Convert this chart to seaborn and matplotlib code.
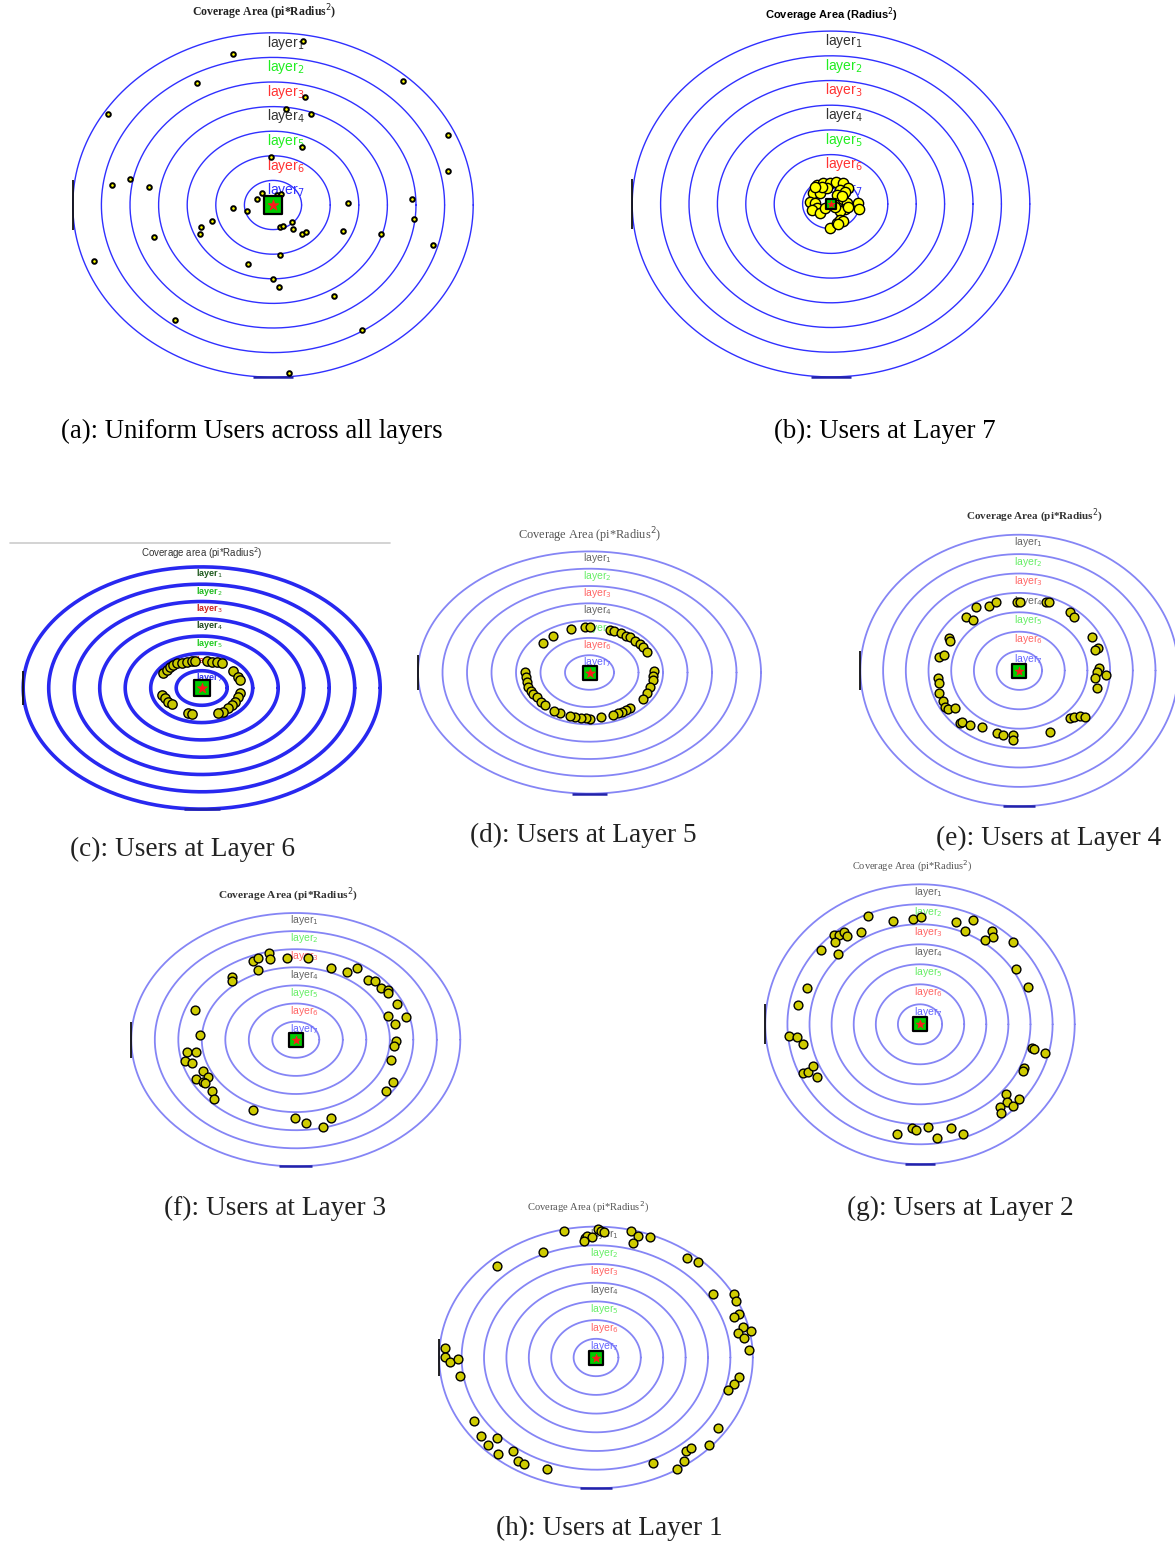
import numpy as np
import matplotlib
matplotlib.use("Agg")
import matplotlib.pyplot as plt
from matplotlib.lines import Line2D
import seaborn as sns

sns.set_theme(style="white")
plt.rcParams["font.family"] = ["DejaVu Sans"]
plt.rcParams["mathtext.fontset"] = "dejavusans"

# ---------------------------------------------------------------- data
RING_RADII = [7, 6, 5, 4, 3, 2, 1]
LAYER_NAMES = [r"layer$_{%d}$" % k for k in range(1, 8)]
LAYER_POS = [6.6, 5.6, 4.6, 3.6, 2.6, 1.6, 0.6]

# user positions in ring units (outer ring radius = 7)
uniform_x = [1.06, -1.41, -2.67, 4.56, 1.13, 0.47, 1.33, -5.78, 6.13, 1.01, -0.08, 6.13,
             -5.00, -5.63, -4.35, 4.85, -0.38, -0.55, 0.13, 0.29, 2.62, -1.39, -0.92, -0.17,
             4.94, -2.14, -2.51, -2.54, 0.66, 0.24, 0.34, 0.71, 1.02, 1.14, 2.46, 3.78,
             -4.15, 5.58, -6.25, 0.23, -0.86, 0.01, 0.21, 2.13, -3.42, 3.11, 0.57]
uniform_y = [6.68, 6.13, 4.97, 5.05, 4.39, 3.90, 3.70, 3.70, 2.85, 2.36, 1.95, 1.37,
             1.04, 0.80, 0.72, 0.23, 0.48, 0.23, 0.41, 0.45, 0.07, -0.13, -0.26, -0.23,
             -0.58, -0.66, -0.88, -1.19, -0.70, -0.88, -0.84, -0.96, -1.19, -1.11, -1.07, -1.19,
             -1.29, -1.61, -2.26, -2.02, -2.40, -2.99, -3.32, -3.70, -4.69, -5.08, -6.84]

layer7_x = [-0.50, -0.27, -0.04, 0.18, 0.43, 0.61, -0.62, -0.39, -0.15, 0.32, 0.49, -0.74,
            -0.56, -0.50, -0.68, -0.39, -0.21, 0.26, 0.43, 0.58, 0.49, 0.32, 0.14, 0.96,
            1.00, -0.04, 0.20, 0.32, 0.43, 0.26, -0.33, 0.20, 0.38, -0.56, 0.61]
layer7_y = [0.77, 0.86, 0.86, 0.90, 0.84, 0.63, 0.43, 0.43, 0.63, 0.57, 0.50, 0.09,
            0.03, -0.18, -0.24, -0.35, -0.18, 0.09, 0.19, 0.03, -0.20, -0.27, -0.11, 0.05,
            -0.22, -0.99, -0.76, -0.65, -0.67, -0.81, 0.70, 0.36, 0.32, 0.70, -0.11]

layer6_x = [-1.51, -1.37, -1.24, -1.11, -0.98, -0.78, -0.59, -0.39, -0.26, 0.20, 0.39, 0.59,
            0.78, 1.24, 1.44, 1.50, -1.57, -1.44, -1.31, -1.18, -0.53, -0.39, 1.50, 1.44,
            1.31, 1.18, 1.04, 0.85, 0.65]
layer6_y = [0.85, 1.04, 1.23, 1.33, 1.43, 1.46, 1.52, 1.56, 1.56, 1.56, 1.52, 1.48,
            1.43, 1.00, 0.65, 0.46, -0.40, -0.60, -0.79, -0.92, -1.46, -1.52, -0.31, -0.50,
            -0.79, -0.98, -1.17, -1.37, -1.43]

layer5_x = [-1.91, -1.48, -0.76, -0.18, 0.02, 0.84, 1.00, 1.27, 1.49, 1.65, 1.86, 2.06,
            2.20, 2.36, 2.65, 2.61, 2.58, 2.47, 2.36, 2.20, 1.65, 1.49, 1.33, 1.16,
            0.97, 0.46, 0.02, -0.16, -0.36, -0.59, -0.80, -1.20, -1.45, -2.63, -2.59, -2.56,
            -2.50, -2.40, -2.29, -2.16, -1.99, -1.82]
layer5_y = [1.72, 2.11, 2.50, 2.61, 2.61, 2.46, 2.40, 2.26, 2.11, 2.03, 1.84, 1.65,
            1.45, 1.17, 0.11, -0.20, -0.43, -0.82, -1.20, -1.55, -2.07, -2.17, -2.26, -2.36,
            -2.46, -2.60, -2.70, -2.65, -2.61, -2.55, -2.51, -2.32, -2.21, 0.05, -0.24, -0.53,
            -0.82, -1.05, -1.24, -1.44, -1.69, -1.88]

layer4_x = [-1.91, -1.32, -1.03, -0.12, 0.03, 1.17, 1.32, 2.23, 2.41, -2.35, -2.06, -3.08,
            -3.05, -3.52, -3.30, 3.20, 3.48, 3.33, 3.52, 3.44, 3.80, 3.35, 3.42, -3.60,
            -3.55, -3.52, -3.38, -3.27, -3.16, -2.83, -2.61, -2.54, -2.17, -1.63, -1.00, -0.70,
            -0.26, -0.26, 1.35, 2.23, 2.41, 2.67, 2.91]
layer4_y = [3.26, 3.34, 3.55, 3.55, 3.51, 3.51, 3.51, 3.00, 2.77, 2.77, 2.60, 1.69,
            1.52, 0.71, 0.80, 1.73, 1.18, 1.06, 0.11, -0.06, -0.23, -0.37, -0.88, -0.40,
            -0.66, -1.18, -1.55, -1.86, -1.98, -1.95, -2.72, -2.64, -2.81, -2.90, -3.24, -3.32,
            -3.32, -3.60, -3.19, -2.47, -2.40, -2.36, -2.38]

layer3_x = [-1.81, -1.62, -1.14, -1.10, -0.39, 0.50, -1.60, -2.73, -2.70, 1.48, 2.16, 2.62,
            3.06, 3.37, 3.63, 3.94, 3.91, 4.29, 3.94, 4.69, 4.22, 4.25, 4.19, 4.04,
            4.12, 3.84, -4.29, -4.08, -4.62, -4.25, -4.72, -4.40, -3.96, -3.72, -4.26, -3.94,
            -3.87, -3.55, -3.47, -1.84, -0.03, 0.42, 1.17, 1.50]
layer3_y = [4.36, 4.49, 4.77, 4.44, 4.49, 4.53, 3.85, 3.48, 3.26, 3.94, 3.76, 3.94,
            3.30, 3.26, 2.87, 2.74, 2.60, 1.97, 1.31, 1.27, 0.85, -0.07, -0.33, -1.12,
            -2.32, -2.84, 1.64, 0.26, -0.66, -0.66, -1.18, -1.27, -1.73, -2.04, -2.19, -2.32,
            -2.41, -2.84, -3.30, -3.89, -4.35, -4.62, -4.81, -4.35]

layer2_x = [-2.34, -1.21, -0.30, 0.05, 1.63, 2.04, 2.41, 3.27, 3.32, 2.94, 4.19, -3.89,
            -3.65, -3.44, -3.32, -3.85, -2.67, -4.48, -3.73, 4.34, 4.90, -5.13, -5.52, -5.91,
            -5.58, -5.28, -5.28, -5.05, -4.83, -4.68, 5.05, 5.17, 5.66, 4.72, 4.68, 3.89,
            3.92, 3.62, 3.65, 4.22, 4.46, -1.06, -0.35, -0.20, 0.38, 0.77, 1.39, 1.93]
layer2_y = [5.42, 5.18, 5.27, 5.38, 5.10, 4.67, 5.22, 4.68, 4.38, 4.22, 4.10, 4.47,
            4.47, 4.60, 4.42, 4.10, 4.63, 3.73, 3.53, 2.75, 1.88, 1.82, 0.95, -0.58,
            -0.65, -1.00, -2.42, -2.40, -2.08, -2.65, -1.17, -1.23, -1.45, -2.20, -2.33, -3.50,
            -3.87, -4.12, -4.45, -4.07, -3.73, -5.50, -5.17, -5.28, -5.12, -5.68, -5.18, -5.48]

layer1_x = [-1.41, -0.49, -0.42, -0.19, 0.10, 0.21, 0.36, -0.54, 1.58, 1.89, 1.64, 2.41,
            -2.35, -4.43, 4.05, 4.57, 5.24, 6.16, 6.25, 6.40, 6.16, 6.58, 6.35, 6.90,
            6.62, 6.85, 6.40, 6.16, 5.91, -6.74, -6.74, -6.52, -6.15, -6.07, -5.45, -5.13,
            -4.43, -4.84, -4.39, -3.69, -3.48, -3.21, -2.17, 2.56, 3.63, 3.93, 4.00, 4.23,
            5.06, 5.46]
layer1_y = [6.76, 6.41, 6.52, 6.46, 6.85, 6.76, 6.69, 6.25, 6.78, 6.50, 6.11, 6.46,
            5.62, 4.89, 5.34, 5.12, 3.41, 3.38, 3.02, 2.33, 2.15, 1.61, 1.33, 1.42,
            1.02, 0.42, -1.02, -1.40, -1.76, 0.49, 0.01, -0.22, -0.10, -0.99, -3.37, -4.18,
            -4.32, -4.68, -5.18, -4.98, -5.53, -5.71, -5.96, -5.62, -5.96, -5.53, -5.00, -4.82,
            -4.68, -3.75]

CAPTIONS = ["(a): Uniform Users across all layers", "(b): Users at Layer 7",
            "(c): Users at Layer 6", "(d): Users at Layer 5", "(e): Users at Layer 4",
            "(f): Users at Layer 3", "(g): Users at Layer 2", "(h): Users at Layer 1"]
TITLES = [r"Coverage Area (pi*Radius$^2$)", r"Coverage Area (Radius$^2$)",
          r"Coverage area (pi*Radius$^2$)", r"Coverage Area (pi*Radius$^2$)",
          r"Coverage Area (pi*Radius$^2$)", r"Coverage Area (pi*Radius$^2$)",
          r"Coverage Area (pi*Radius$^2$)", r"Coverage Area (pi*Radius$^2$)"]

# ---------------------------------------------------------------- layout
W, H = 1175, 1544
fig = plt.figure(figsize=(W / 100, H / 100), dpi=100)
fig.patch.set_facecolor("white")

NARROW = ["Liberation Sans Narrow", "Liberation Sans", "DejaVu Sans"]
SERIF = ["Liberation Serif", "DejaVu Serif"]

crisp_labels = ["#333333", "#22ee22", "#ff3333", "#333333", "#22ee22", "#ff3333", "#3333ff"]
soft_labels = ["#666666", "#66ee66", "#ff6666", "#666666", "#66ee66", "#ff6666", "#6666ff"]
dark_labels = ["#1f5a1f", "#22bb22", "#cc2222", "#1f4a1f", "#22cc22", "#ee3333", "#3333ee"]

panels = [
    dict(x=uniform_x, y=uniform_y, c=(273, 205), u=(28.6, 24.6), ring="#3030ff", rlw=1.0,
         s=11, plw=1.4, fill="#ffff00", lab=crisp_labels, lfs=10, lx=-0.2, sq=150,
         cap=(252, 431), cfs=19.3, ccol="black", title=(264, 12), tfs=8.5, tcol="#222222",
         tfam=SERIF, tw="bold"),
    dict(x=layer7_x, y=layer7_y, c=(831, 204), u=(28.4, 24.7), ring="#3030ff", rlw=1.0,
         s=55, plw=1.0, fill="#ffff00", lab=crisp_labels, lfs=10, lx=-0.2, sq=60,
         cap=(885, 431), cfs=19.3, ccol="black", title=(831, 15), tfs=8, tcol="black",
         tfam=NARROW, tw="bold"),
    dict(x=layer6_x, y=layer6_y, c=(201.7, 688), u=(25.5, 17.3), ring="#2828f0", rlw=2.6,
         s=45, plw=1.0, fill="#c8c800", lab=dark_labels, lfs=6.5, lx=-0.22, sq=130,
         cap=(183, 849), cfs=19.6, ccol="#222222", title=(202, 553), tfs=7, tcol="#333333",
         tfam=NARROW, tw="normal"),
    dict(x=layer5_x, y=layer5_y, c=(589.5, 672.5), u=(24.5, 17.3), ring="#8585f5", rlw=1.3,
         s=40, plw=1.0, fill="#cfcc00", lab=soft_labels, lfs=7.5, lx=-0.25, sq=110,
         cap=(583, 835), cfs=19.6, ccol="#222222", title=(590, 535), tfs=8.9, tcol="#555555",
         tfam=SERIF, tw="normal"),
    dict(x=layer4_x, y=layer4_y, c=(1019.3, 670.5), u=(22.7, 19.4), ring="#8585f5", rlw=1.3,
         s=40, plw=1.0, fill="#cfcc00", lab=soft_labels, lfs=7.5, lx=-0.25, sq=90,
         cap=(1049, 838), cfs=19.6, ccol="#222222", title=(1034, 516), tfs=8, tcol="#333333",
         tfam=SERIF, tw="bold"),
    dict(x=layer3_x, y=layer3_y, c=(295.8, 1039.7), u=(23.5, 18.1), ring="#8585f5", rlw=1.3,
         s=40, plw=1.0, fill="#cfcc00", lab=soft_labels, lfs=7.5, lx=-0.25, sq=90,
         cap=(275, 1208), cfs=19.6, ccol="#222222", title=(288, 895), tfs=8.2, tcol="#333333",
         tfam=SERIF, tw="bold"),
    dict(x=layer2_x, y=layer2_y, c=(920, 1024.3), u=(22.1, 20.0), ring="#8585f5", rlw=1.3,
         s=40, plw=1.0, fill="#cfcc00", lab=soft_labels, lfs=7.5, lx=-0.25, sq=90,
         cap=(960, 1208), cfs=19.6, ccol="#222222", title=(912, 866), tfs=7.5, tcol="#555555",
         tfam=SERIF, tw="normal"),
    dict(x=layer1_x, y=layer1_y, c=(596, 1357.5), u=(22.4, 18.7), ring="#8585f5", rlw=1.3,
         s=40, plw=1.0, fill="#cfcc00", lab=soft_labels, lfs=7.5, lx=-0.25, sq=90,
         cap=(609, 1528), cfs=19.6, ccol="#222222", title=(588, 1207), tfs=7.6, tcol="#555555",
         tfam=SERIF, tw="normal"),
]

L = 7.6
theta = np.linspace(0, 2 * np.pi, 400)

for i, p in enumerate(panels):
    cx, cy = p["c"]
    ux, uy = p["u"]
    ax = fig.add_axes([(cx - L * ux) / W, 1 - (cy + L * uy) / H, 2 * L * ux / W, 2 * L * uy / H])
    ax.set_xlim(-L, L)
    ax.set_ylim(-L, L)
    ax.axis("off")

    # concentric coverage rings
    for r in RING_RADII:
        ax.plot(r * np.cos(theta), r * np.sin(theta), color=p["ring"], lw=p["rlw"], zorder=1)

    # layer names
    for name, ypos, col in zip(LAYER_NAMES, LAYER_POS, p["lab"]):
        ax.text(p["lx"], ypos, name, color=col, fontsize=p["lfs"], family=NARROW,
                ha="left", va="center", zorder=2,
                fontweight="bold" if i == 2 else "normal")

    # users
    sns.scatterplot(x=p["x"], y=p["y"], ax=ax, s=p["s"], color=p["fill"],
                    edgecolor="black", linewidth=p["plw"], legend=False, zorder=3)

    # base station
    ax.scatter([0], [0], marker="s", s=p["sq"], color="#00cc00", edgecolor="black",
               linewidth=1.6, zorder=4)
    ax.scatter([0], [0], marker="*", s=p["sq"] * 0.45, color="#ff1a1a", edgecolor="#ff1a1a",
               linewidth=0.5, zorder=5)

    # stub of the original axes frame
    ax.vlines(-7.0, -1.0, 1.0, colors="#111111", lw=1.3, zorder=1)
    ax.hlines(-7.0, -0.7, 0.7, colors="#2222aa", lw=1.8, zorder=1)

    fig.text(p["title"][0] / W, 1 - p["title"][1] / H, TITLES[i], ha="center", va="center",
             fontsize=p["tfs"], color=p["tcol"], family=p["tfam"], fontweight=p["tw"])
    fig.text(p["cap"][0] / W, 1 - p["cap"][1] / H, CAPTIONS[i], ha="center", va="center",
             fontsize=p["cfs"], color=p["ccol"], family=SERIF)

# separator line above panel (c)
fig.add_artist(Line2D([10 / W, 390 / W], [1 - 543 / H, 1 - 543 / H],
                      color="#cccccc", lw=1.2, transform=fig.transFigure))

fig.savefig("out.png", dpi=100, facecolor="white")
